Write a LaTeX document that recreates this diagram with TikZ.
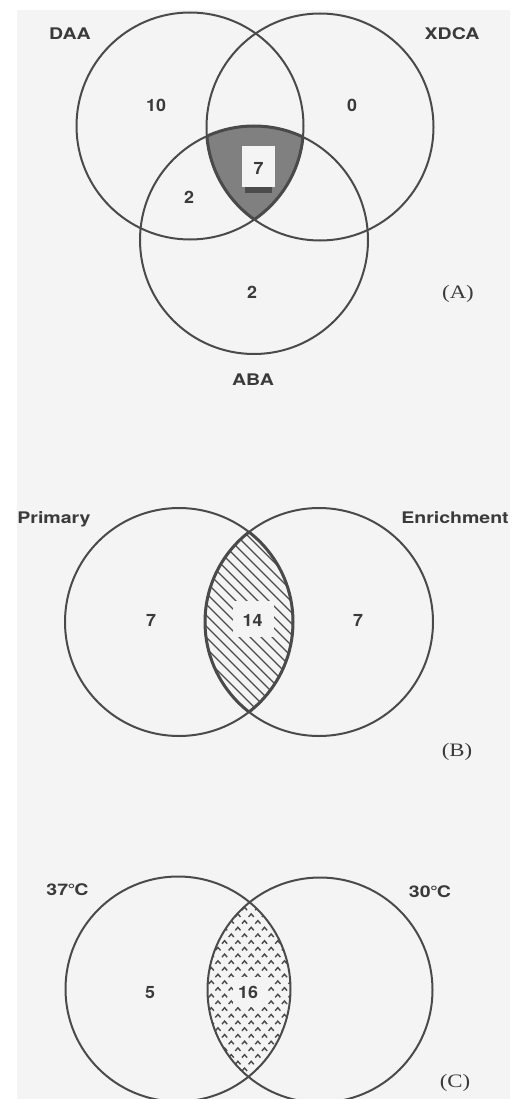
\documentclass[tikz,border=0pt]{standalone}
\usepackage{fontspec}
\newfontfamily\labfont[FakeStretch=1.22]{TeX Gyre Heros Bold}
\newfontfamily\numfont[FakeStretch=1.05]{TeX Gyre Heros Bold}
\newfontfamily\tagfont[FakeStretch=1.2]{Liberation Serif}
\definecolor{ink}{HTML}{4A4A4A}
\definecolor{txt}{HTML}{3A3A3A}
\definecolor{paper}{HTML}{F4F4F4}
\definecolor{stip}{HTML}{808080}
\tikzset{
  circ/.style={draw=ink,line width=2pt},
  rim/.style={draw=ink,line width=3pt},
  lab/.style={anchor=base,inner sep=0pt,text=txt,font=\labfont\fontsize{16}{16}\selectfont},
  num/.style={anchor=base,inner sep=0pt,text=txt,font=\numfont\fontsize{17}{17}\selectfont},
  tag/.style={anchor=base,inner sep=0pt,text=txt,font=\tagfont\fontsize{19}{19}\selectfont},
  hatch/.style={draw=ink,line width=1.3pt},
  caret/.style={draw=ink,line width=1.4pt}
}
\begin{document}
\begin{tikzpicture}[x=1pt,y=-1pt]
\useasboundingbox (0,0) rectangle (526,1099);
\fill[white] (0,0) rectangle (526,1099);
\fill[paper] (17,10) rectangle (510,1099);
\clip (0,0) rectangle (526,1099);

% ---------- (A) ----------
\coordinate (daa) at (190,126);
\coordinate (xdca) at (320,127);
\coordinate (aba) at (254,240);
\begin{scope}
  \clip (daa) circle[radius=113.5];
  \clip (xdca) circle[radius=113.5];
  \fill[stip] (aba) circle[radius=114];
\end{scope}
\draw[circ] (daa) circle[radius=113.5];
\draw[circ] (xdca) circle[radius=113.5];
\draw[circ] (aba) circle[radius=114];
\begin{scope}
  \clip (daa) circle[radius=113.5];
  \clip (xdca) circle[radius=113.5];
  \draw[rim] (aba) circle[radius=114];
\end{scope}
\begin{scope}
  \clip (daa) circle[radius=113.5];
  \clip (aba) circle[radius=114];
  \draw[rim] (xdca) circle[radius=113.5];
\end{scope}
\begin{scope}
  \clip (xdca) circle[radius=113.5];
  \clip (aba) circle[radius=114];
  \draw[rim] (daa) circle[radius=113.5];
\end{scope}
\fill[paper] (242,146) rectangle (275,187);
\fill[black!70] (245,187) rectangle (272,193);
\node[lab] (tDAA) at (70,39.5) {DAA};
\node[lab] (tXDCA) at (452,39.5) {XDCA};
\node[lab] (tABA) at (253,385) {ABA};
\node[num] (a10) at (156,112) {10};
\node[num] (a0) at (352,112) {0};
\node[num] (a7) at (258.5,175) {7};
\node[num] (a2l) at (189,204) {2};
\node[num] (a2b) at (252,298) {2};
\node[tag] (tA) at (458,298) {(A)};

% ---------- (B) ----------
\coordinate (pri) at (179,622);
\coordinate (enr) at (319,622);
\begin{scope}
  \clip (pri) circle[radius=114];
  \clip (enr) circle[radius=114];
  \foreach \c in {-530,-519,...,-220}
    \draw[hatch] (\c+500,500) -- (\c+760,760);
\end{scope}
\fill[paper] (233,601) rectangle (274,637);
\draw[circ] (pri) circle[radius=114];
\draw[circ] (enr) circle[radius=114];
\begin{scope}
  \clip (pri) circle[radius=114];
  \draw[rim] (enr) circle[radius=114];
\end{scope}
\begin{scope}
  \clip (enr) circle[radius=114];
  \draw[rim] (pri) circle[radius=114];
\end{scope}
\node[lab] (tPri) at (54,523) {Primary};
\node[lab] (tEnr) at (455,523) {Enrichment};
\node[num] (b7l) at (151,626) {7};
\node[num] (b14) at (252.5,626) {14};
\node[num] (b7r) at (358,626) {7};
\node[tag] (tB) at (457,756) {(B)};

% ---------- (C) ----------
\coordinate (c37) at (178,989);
\coordinate (c30) at (320,990);
\begin{scope}
  \clip (c37) circle[radius=112.5];
  \clip (c30) circle[radius=112.5];
  \foreach \j in {0,...,28}
    \foreach \i in {0,...,8} {
      \pgfmathsetmacro\xx{198+13.3*\i+mod(\j,2)*6.65}
      \pgfmathsetmacro\yy{902+6.7*\j}
      \draw[caret] (\xx-2.6,\yy+1.5) -- (\xx,\yy-1.5) -- (\xx+2.6,\yy+1.5);
    }
\end{scope}
\fill[paper] (233,977) rectangle (268,1007);
\draw[circ] (c37) circle[radius=112.5];
\draw[circ] (c30) circle[radius=112.5];
\node[lab] (t37) at (67.5,895) {37\kern-0.5pt°\kern-1ptC};
\node[lab] (t30) at (430,897) {30\kern-0.5pt°\kern-1ptC};
\node[num] (c5) at (150,998) {5};
\node[num] (c16) at (248,998) {16};
\node[tag] (tC) at (455,1087) {(C)};
\end{tikzpicture}
\end{document}
